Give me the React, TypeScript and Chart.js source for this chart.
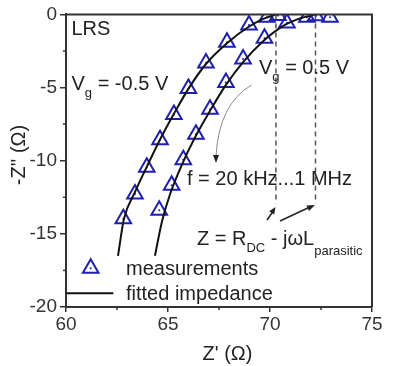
import React, { useEffect, useRef } from 'react';
import { Chart, registerables } from 'chart.js';
Chart.register(...registerables);

// Measurements (Z' in ohm, -Z'' in ohm)
const measNegX = [62.81, 63.38, 63.96, 64.61, 65.29, 66.0, 66.86, 67.89, 68.97, 69.85, 70.39];
const measNegY = [-13.96, -12.27, -10.45, -8.57, -6.85, -5.06, -3.33, -1.9, -0.73, -0.2, -0.07];
const measPosX = [64.57, 65.18, 65.75, 66.37, 67.06, 67.84, 68.68, 69.73, 70.83, 71.81, 72.25, 72.94];
const measPosY = [-13.39, -11.68, -9.93, -8.19, -6.48, -4.65, -3.05, -1.63, -0.58, -0.2, -0.1, -0.2];
// Fitted impedance
const fitNegX = [62.55, 62.84, 63.38, 63.97, 64.61, 65.29, 66.03, 66.86, 67.89, 68.92, 69.61, 70.29];
const fitNegY = [-16.5, -13.99, -12.15, -10.39, -8.55, -6.79, -5.02, -3.39, -1.97, -0.88, -0.34, 0];
const fitPosX = [64.36, 64.71, 65.1, 65.69, 66.32, 67.06, 67.84, 68.68, 69.66, 70.69, 71.47, 72.25];
const fitPosY = [-16.5, -14.12, -12.29, -10.25, -8.42, -6.59, -4.82, -3.26, -1.83, -0.75, -0.27, 0];
// R_DC markers (dashed)
const rdcX = [70.29, 72.23];
const rdcYRange = [0, -12.95];

const xTicks = [60, 65, 70, 75];
const yTicks = [-20, -15, -10, -5, 0];
const xMinor = [62.5, 67.5, 72.5];
const yMinor = [-17.5, -12.5, -7.5, -2.5];

const BLUE = '#1f1fb0';
const FONT = '"Liberation Sans", Arial, Helvetica, sans-serif';
const TXT = '#222';
const TRI_R = 9;

const zip = (xs: number[], ys: number[]) => xs.map((v, i) => ({ x: v, y: ys[i] }));

function runs(ctx: CanvasRenderingContext2D, x: number, base: number, parts: [string, number, number][]) {
  let cx = x;
  for (const [t, size, dy] of parts) {
    ctx.font = `${size}px ${FONT}`;
    ctx.fillText(t, cx, base + dy);
    cx += ctx.measureText(t).width;
  }
}

function arrowHead(ctx: CanvasRenderingContext2D, fx: number, fy: number, tx: number, ty: number, len: number, w: number) {
  const a = Math.atan2(ty - fy, tx - fx);
  ctx.beginPath();
  ctx.moveTo(tx, ty);
  ctx.lineTo(tx - len * Math.cos(a) + w * Math.sin(a), ty - len * Math.sin(a) - w * Math.cos(a));
  ctx.lineTo(tx - len * Math.cos(a) - w * Math.sin(a), ty - len * Math.sin(a) + w * Math.cos(a));
  ctx.closePath();
  ctx.fill();
}

const annot = {
  id: 'annot',
  beforeDatasetsDraw(chart: any) {
    const { ctx, scales } = chart;
    const x = scales.x, y = scales.y;
    ctx.save();
    ctx.setLineDash([5, 4]);
    ctx.strokeStyle = '#555';
    ctx.lineWidth = 1.5;
    for (const v of rdcX) {
      const px = x.getPixelForValue(v);
      ctx.beginPath();
      ctx.moveTo(px, y.getPixelForValue(rdcYRange[0]));
      ctx.lineTo(px, y.getPixelForValue(rdcYRange[1]));
      ctx.stroke();
    }
    ctx.restore();
  },
  afterDraw(chart: any) {
    const { ctx, chartArea: ca, scales } = chart;
    const x = scales.x, y = scales.y;
    ctx.save();
    // frame top & right
    ctx.strokeStyle = '#333';
    ctx.lineWidth = 2;
    ctx.beginPath();
    ctx.moveTo(ca.left, ca.top);
    ctx.lineTo(ca.right, ca.top);
    ctx.lineTo(ca.right, ca.bottom);
    ctx.stroke();
    // minor ticks
    ctx.lineWidth = 1.5;
    for (const v of yMinor) {
      const py = y.getPixelForValue(v);
      ctx.beginPath(); ctx.moveTo(ca.left - 3, py); ctx.lineTo(ca.left, py); ctx.stroke();
    }
    for (const v of xMinor) {
      const px = x.getPixelForValue(v);
      ctx.beginPath(); ctx.moveTo(px, ca.bottom); ctx.lineTo(px, ca.bottom + 3); ctx.stroke();
    }
    // curved grey arrow
    ctx.strokeStyle = '#8a8a8a';
    ctx.lineWidth = 1;
    ctx.beginPath();
    ctx.moveTo(251.5, 85);
    ctx.quadraticCurveTo(219, 104, 216, 156);
    ctx.stroke();
    ctx.fillStyle = '#222';
    arrowHead(ctx, 216, 150, 216, 163, 8, 3);
    // straight arrows
    ctx.strokeStyle = '#222';
    ctx.lineWidth = 1.5;
    ctx.beginPath(); ctx.moveTo(267, 220); ctx.lineTo(274, 210); ctx.stroke();
    arrowHead(ctx, 267, 220, 275.5, 207, 7, 3);
    ctx.beginPath(); ctx.moveTo(280, 221); ctx.lineTo(311, 206.5); ctx.stroke();
    arrowHead(ctx, 280, 221, 315, 205, 8, 3);

    // texts
    ctx.fillStyle = TXT;
    ctx.textAlign = 'left';
    ctx.textBaseline = 'alphabetic';
    runs(ctx, 71.5, 35, [['LRS', 20, 0]]);
    runs(ctx, 71.5, 90, [['V', 20, 0], ['g', 13, 7], [' = -0.5 V', 20, 0]]);
    runs(ctx, 259, 74, [['V', 20, 0], ['g', 13, 7], [' = 0.5 V', 20, 0]]);
    runs(ctx, 187, 185, [['f = 20 kHz...1 MHz', 20, 0]]);
    runs(ctx, 197, 245, [['Z = R', 20, 0], ['DC', 13, 7], [' - j\u03c9L', 20, 0], ['parasitic', 13, 10]]);

    // legend
    const lx = 90.7, ly = 268.3, r = TRI_R;
    ctx.strokeStyle = BLUE;
    ctx.lineWidth = 2;
    ctx.beginPath();
    for (let i = 0; i < 3; i++) {
      const a = (i * 2 * Math.PI) / 3;
      const px = lx + Math.sin(a) * r, py = ly - Math.cos(a) * r;
      if (i === 0) ctx.moveTo(px, py); else ctx.lineTo(px, py);
    }
    ctx.closePath();
    ctx.stroke();
    ctx.fillStyle = BLUE;
    ctx.beginPath(); ctx.arc(lx, ly, 1, 0, Math.PI * 2); ctx.fill();
    ctx.strokeStyle = '#111';
    ctx.lineWidth = 2;
    ctx.beginPath(); ctx.moveTo(66.7, 293.3); ctx.lineTo(113.3, 293.3); ctx.stroke();
    ctx.fillStyle = TXT;
    runs(ctx, 126, 275, [['measurements', 20, 0]]);
    runs(ctx, 126, 300, [['fitted impedance', 20, 0]]);

    // axis titles
    ctx.font = `20px ${FONT}`;
    ctx.textAlign = 'center';
    ctx.fillText("Z' (\u03a9)", 227.5, 360);
    ctx.translate(25, 155);
    ctx.rotate(-Math.PI / 2);
    ctx.fillText("-Z'' (\u03a9)", 0, 0);
    ctx.restore();
  },
};

export default function App() {
  const ref = useRef<HTMLCanvasElement>(null);
  useEffect(() => {
    if (!ref.current) return;
    const chart = new Chart(ref.current, {
      type: 'scatter',
      data: {
        datasets: [
          {
            label: 'fit -0.5',
            type: 'line',
            data: zip(fitNegX, fitNegY),
            borderColor: '#111',
            borderWidth: 2,
            pointRadius: 0,
            showLine: true,
            fill: false,
            cubicInterpolationMode: 'monotone',
            order: 0,
          },
          {
            label: 'fit 0.5',
            type: 'line',
            data: zip(fitPosX, fitPosY),
            borderColor: '#111',
            borderWidth: 2,
            pointRadius: 0,
            showLine: true,
            fill: false,
            cubicInterpolationMode: 'monotone',
            order: 0,
          },
          {
            label: 'meas -0.5',
            data: zip(measNegX, measNegY),
            pointStyle: 'triangle',
            pointRadius: TRI_R,
            pointBorderWidth: 2,
            pointBorderColor: BLUE,
            pointBackgroundColor: 'rgba(0,0,0,0)',
            order: 2,
          },
          {
            label: 'meas 0.5',
            data: zip(measPosX, measPosY),
            pointStyle: 'triangle',
            pointRadius: TRI_R,
            pointBorderWidth: 2,
            pointBorderColor: BLUE,
            pointBackgroundColor: 'rgba(0,0,0,0)',
            order: 2,
          },
          {
            label: 'dots -0.5',
            data: zip(measNegX, measNegY),
            pointStyle: 'circle',
            pointRadius: 1,
            pointBorderWidth: 0,
            pointBackgroundColor: BLUE,
            order: 1,
          },
          {
            label: 'dots 0.5',
            data: zip(measPosX, measPosY),
            pointStyle: 'circle',
            pointRadius: 1,
            pointBorderWidth: 0,
            pointBackgroundColor: BLUE,
            order: 1,
          },
        ],
      } as any,
      options: {
        animation: false,
        responsive: false,
        devicePixelRatio: 1,
        layout: { padding: { top: 12, right: 25, left: 0, bottom: 0 } },
        plugins: { legend: { display: false }, tooltip: { enabled: false } },
        scales: {
          x: {
            type: 'linear',
            min: 60,
            max: 75,
            afterFit: (s: any) => { s.height = 59; },
            afterBuildTicks: (s: any) => { s.ticks = xTicks.map((v) => ({ value: v })); },
            ticks: { color: '#333', font: { family: FONT, size: 19 }, padding: 1, maxRotation: 0 },
            grid: { display: true, drawOnChartArea: false, drawTicks: true, tickLength: 5, color: '#333', lineWidth: 1.5 },
            border: { display: true, color: '#333', width: 2 },
          },
          y: {
            type: 'linear',
            min: -20,
            max: 0,
            afterFit: (s: any) => { s.width = 66; },
            afterBuildTicks: (s: any) => { s.ticks = yTicks.map((v) => ({ value: v })); },
            ticks: { color: '#333', font: { family: FONT, size: 19 }, padding: 3 },
            grid: { display: true, drawOnChartArea: false, drawTicks: true, tickLength: 6, color: '#333', lineWidth: 1.5 },
            border: { display: true, color: '#333', width: 2 },
          },
        },
      } as any,
      plugins: [annot],
    });
    return () => chart.destroy();
  }, []);
  return (
    <div style={{ position: 'absolute', left: 0, top: 0, width: 397, height: 366, background: '#fff' }}>
      <canvas ref={ref} width={397} height={366} />
    </div>
  );
}
